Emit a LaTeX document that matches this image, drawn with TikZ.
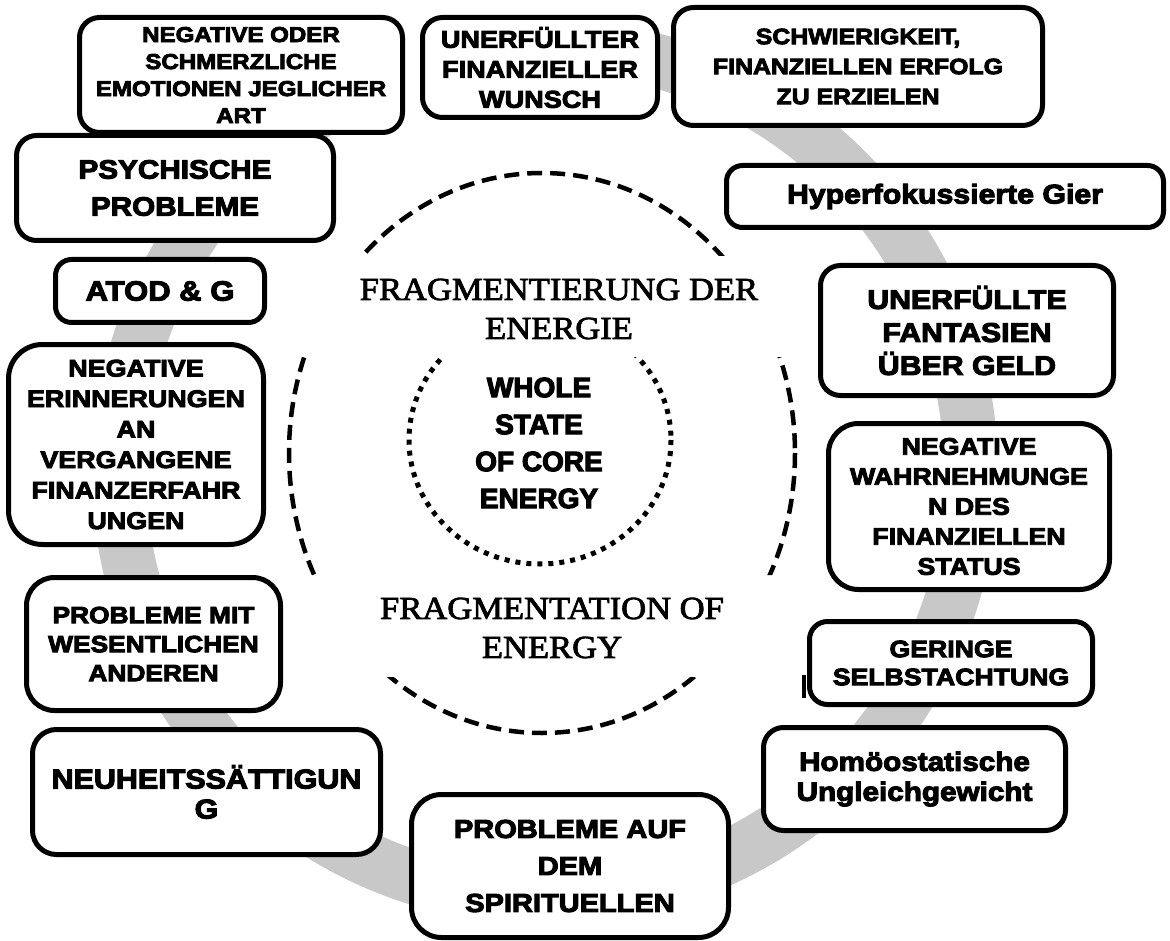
\documentclass[tikz,border=0pt]{standalone}
\usepackage{fontspec}
\setmainfont{Liberation Serif}
\newfontfamily\blk{Liberation Sans}[BoldFeatures={FakeBold=4,FakeStretch=1.12}]
\newfontfamily\blkn{Liberation Sans}[BoldFeatures={FakeBold=4}]
\newfontfamily\titleserif{Liberation Serif}[FakeStretch=1.08,FakeBold=2.5]
\definecolor{ringgray}{RGB}{200,200,200}
\tikzset{
  cbox/.style={draw=black, line width=5pt, fill=white, rounded corners=20pt,
    align=center, inner sep=0pt},
  fs/.style 2 args={font=\blk\bfseries\fontsize{#1}{#2}\selectfont},
  serifhead/.style={font=\titleserif\fontsize{32}{39}\selectfont, align=center, inner sep=0pt},
}
\begin{document}
\begin{tikzpicture}[x=1pt,y=-1pt]
\useasboundingbox (0,0) rectangle (1170,941);

% grey ring behind the boxes; it is open at the top, where the cycle begins
\begin{scope}[even odd rule]
  \clip (-10,-10) rectangle (1180,950) (398,-10) rectangle (428,160);
  \draw[ringgray, line width=54pt] (545,472) circle[radius=426];
\end{scope}

% dashed outer ellipse and dotted inner ellipse, cut where the headings sit
\begin{scope}
  \clip (-10,-10) rectangle (1180,256) (-10,357) rectangle (1180,575) (-10,677) rectangle (1180,950);
  \draw[line width=4.5pt, dash pattern=on 15pt off 8pt] (542,453) ellipse[x radius=253, y radius=280];
  \draw[line width=5pt, dash pattern=on 5pt off 6pt] (540,440) ellipse[x radius=131, y radius=124];
\end{scope}

% headings and core text
\node[serifhead] (fragde) at (559,309) {FRAGMENTIERUNG DER\\ENERGIE};
\node[serifhead] (fragen) at (552,628) {FRAGMENTATION OF\\ENERGY};
\node[font=\blkn\bfseries\fontsize{28}{37}\selectfont, align=center, inner sep=0pt] (core) at (539,443)
  {WHOLE\\STATE\\OF CORE\\ENERGY};

% boxes around the ring
\node[cbox, fs={21.5}{27}, minimum width=323, minimum height=115] (negoder) at (241,75)
  {NEGATIVE ODER\\SCHMERZLICHE\\EMOTIONEN JEGLICHER\\ART};
\node[cbox, fs={24.2}{30}, minimum width=235, minimum height=100] (wunsch) at (540,67.5)
  {UNERFÜLLTER\\FINANZIELLER\\WUNSCH};
\node[cbox, fs={22.2}{30}, minimum width=369, minimum height=118] (schw) at (858,66.5)
  {SCHWIERIGKEIT,\\FINANZIELLEN ERFOLG\\ZU ERZIELEN};
\node[cbox, fs={27}{30}, minimum width=437, minimum height=62, rounded corners=16pt] (gier) at (945,196.5)
  {Hyperfokussierte Gier};
\node[cbox, fs={27}{33}, minimum width=293, minimum height=130] (fant) at (967,330.5)
  {UNERFÜLLTE\\FANTASIEN\\ÜBER GELD};
\node[cbox, fs={23.9}{30}, minimum width=281, minimum height=166, rounded corners=30pt] (wahrn) at (969,506.5)
  {NEGATIVE\\WAHRNEHMUNGE\\N DES\\FINANZIELLEN\\STATUS};
\node[cbox, fs={23.8}{28}, minimum width=283, minimum height=83, rounded corners=18pt] (geringe) at (951,663)
  {GERINGE\\SELBSTACHTUNG};
\draw[line width=4pt] (804,675) -- (804,698);
\node[cbox, fs={26.5}{30}, minimum width=302, minimum height=103] (homoo) at (914.5,779)
  {Homöostatische\\Ungleichgewicht};
\node[cbox, fs={25.9}{37}, minimum width=317, minimum height=143, rounded corners=30pt] (spirit) at (570,866)
  {PROBLEME AUF\\DEM\\SPIRITUELLEN};
\node[cbox, fs={27.2}{30}, minimum width=348, minimum height=125, rounded corners=24pt] (neuh) at (206.5,792)
  {NEUHEITSSÄTTIGUN\\G};
\node[cbox, fs={23.5}{29}, minimum width=254, minimum height=133, rounded corners=28pt] (pmit) at (153.5,644)
  {PROBLEME MIT\\WESENTLICHEN\\ANDEREN};
\node[cbox, fs={24}{30.5}, minimum width=255, minimum height=200, rounded corners=34pt] (erinn) at (136,444.5)
  {NEGATIVE\\ERINNERUNGEN\\AN\\VERGANGENE\\FINANZERFAHR\\UNGEN};
\node[cbox, fs={27.7}{30}, minimum width=209, minimum height=63, rounded corners=16pt] (atod) at (160,291)
  {ATOD \& G};
\node[cbox, fs={26.5}{37}, minimum width=317, minimum height=105] (psych) at (175,188)
  {PSYCHISCHE\\PROBLEME};
\end{tikzpicture}
\end{document}
